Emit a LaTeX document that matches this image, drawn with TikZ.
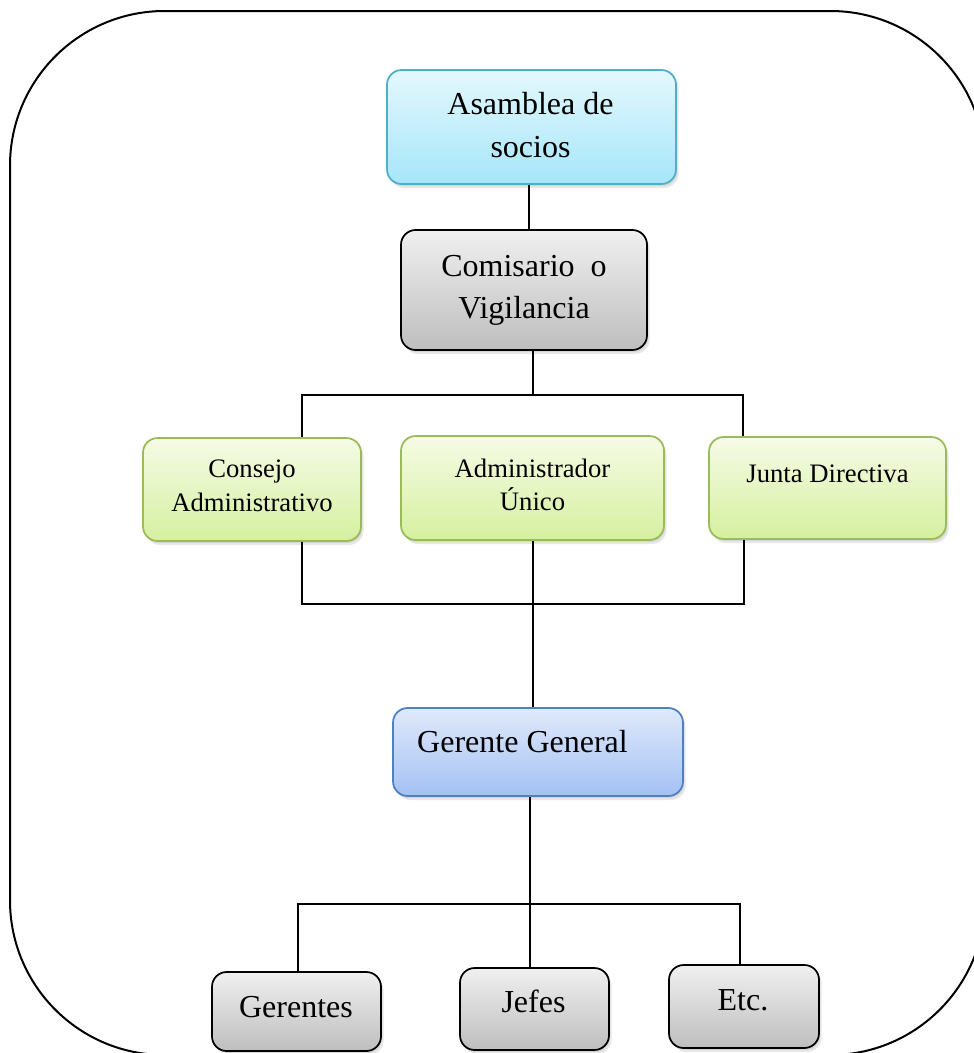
\documentclass[tikz,border=0pt]{standalone}
\usepackage{fontspec}
\setmainfont{Liberation Serif}
\usetikzlibrary{shadows}

\definecolor{cyantop}{HTML}{E4F8FD}
\definecolor{cyanbot}{HTML}{A6E6F9}
\definecolor{cyanedge}{HTML}{4FAFC8}
\definecolor{graytop}{HTML}{F0F0F0}
\definecolor{graybot}{HTML}{BEBEBE}
\definecolor{greentop}{HTML}{F6FBE6}
\definecolor{greenbot}{HTML}{D5F09F}
\definecolor{greenedge}{HTML}{9BBB59}
\definecolor{bluetop}{HTML}{E0E9FB}
\definecolor{bluebot}{HTML}{A4C1F4}
\definecolor{blueedge}{HTML}{4F81BD}

\tikzset{
  box/.style={rounded corners=11pt, inner sep=0pt, line width=1.3pt,
    drop shadow={opacity=0.18, shadow xshift=1pt, shadow yshift=-1.5pt},
    drop shadow={opacity=0.18, shadow xshift=2pt, shadow yshift=-3pt}},
  cyanbox/.style={box, draw=cyanedge, top color=cyantop, bottom color=cyanbot},
  graybox/.style={box, draw=black, top color=graytop, bottom color=graybot},
  greenbox/.style={box, draw=greenedge, top color=greentop, bottom color=greenbot},
  bluebox/.style={box, draw=blueedge, top color=bluetop, bottom color=bluebot},
  link/.style={line width=1.5pt, black},
  lbl/.style={anchor=base, inner sep=0pt},
  big/.style={font=\fontsize{24}{32.25}\selectfont},
  small/.style={font=\fontsize{20}{26}\selectfont},
}

\begin{document}
\begin{tikzpicture}[x=0.75pt, y=-0.75pt]
  \useasboundingbox (0,0) rectangle (974,1053);
  \clip (0,0) rectangle (974,1053);

  % outer frame
  \draw[line width=1.5pt, rounded corners=116pt] (10,11) rectangle (985,1055);

  % boxes
  \node[cyanbox, minimum width=216.75pt, minimum height=85.5pt] (asamblea) at (531.5,127) {};
  \node[graybox, minimum width=184.5pt, minimum height=90pt] (comisario) at (524,290) {};
  \node[greenbox, minimum width=163.5pt, minimum height=77.25pt] (consejo) at (252,489.5) {};
  \node[greenbox, minimum width=197.25pt, minimum height=78pt] (admin) at (532.5,488) {};
  \node[greenbox, minimum width=177.75pt, minimum height=76.5pt] (junta) at (827.5,488) {};
  \node[bluebox, minimum width=217.5pt, minimum height=66pt] (gerente) at (538,752) {};
  \node[graybox, minimum width=126.75pt, minimum height=59.25pt] (gerentes) at (296.5,1011.5) {};
  \node[graybox, minimum width=111.75pt, minimum height=61.5pt] (jefes) at (534.5,1009) {};
  \node[graybox, minimum width=112.5pt, minimum height=62.25pt] (etc) at (744,1006.5) {};

  % labels
  \node[lbl, big] (asamblea-t) at (530.5,114)
    {\begin{tabular}[t]{@{}c@{}}Asamblea de\\ socios\end{tabular}};
  \node[lbl, font=\fontsize{24}{31.5}\selectfont] (comisario-t) at (524,276)
    {\begin{tabular}[t]{@{}c@{}}Comisario~~o\\ Vigilancia\end{tabular}};
  \node[lbl, small] (consejo-t) at (252,477)
    {\begin{tabular}[t]{@{}c@{}}Consejo\\ Administrativo\end{tabular}};
  \node[lbl, font=\fontsize{20}{24.75}\selectfont] (admin-t) at (532.5,477)
    {\begin{tabular}[t]{@{}c@{}}Administrador\\ Único\end{tabular}};
  \node[lbl, small] (junta-t) at (827.5,482) {Junta Directiva};
  \node[lbl, big] (gerente-t) at (522.5,752) {Gerente General};
  \node[lbl, big] (gerentes-t) at (296,1017) {Gerentes};
  \node[lbl, big] (jefes-t) at (533.5,1012) {Jefes};
  \node[lbl, big] (etc-t) at (743,1010) {Etc.};

  % bus coordinates
  \coordinate (busAl) at (302,395);
  \coordinate (busAm) at (533,395);
  \coordinate (busAr) at (743,395);
  \coordinate (busBl) at (302,604);
  \coordinate (busBr) at (744,604);
  \coordinate (busCl) at (298,904);
  \coordinate (busCm) at (530,904);
  \coordinate (busCr) at (740,904);

  % connectors
  \draw[link] (asamblea.south -| 529,0) -- (comisario.north -| 529,0);
  \draw[link] (comisario.south -| busAm) -- (busAm);
  \draw[link] (busAl |- consejo.north) -- (busAl) -- (busAr) -- (busAr |- junta.north);
  \draw[link] (busBl |- consejo.south) -- (busBl) -- (busBr) -- (busBr |- junta.south);
  \draw[link] (admin.south) -- (admin.south |- gerente.north);
  \draw[link] (gerente.south -| busCm) -- (jefes.north -| busCm);
  \draw[link] (busCl |- gerentes.north) -- (busCl) -- (busCr) -- (busCr |- etc.north);
\end{tikzpicture}
\end{document}
